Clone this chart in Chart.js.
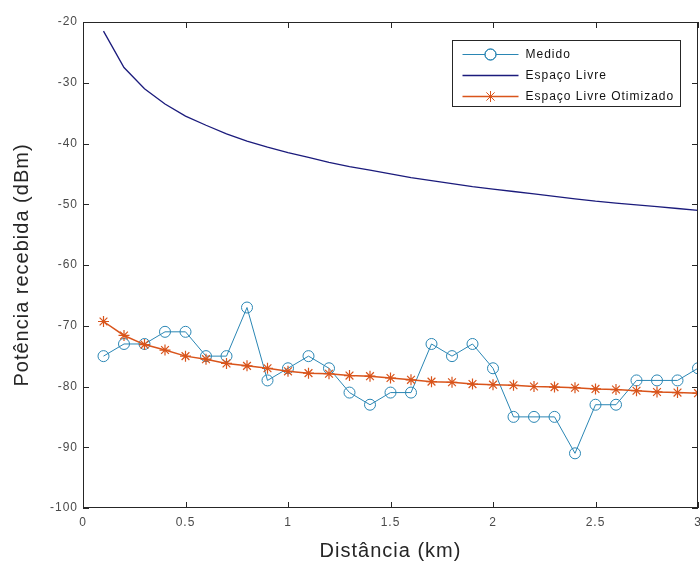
<!DOCTYPE html>
<html>
<head>
<meta charset="utf-8">
<script src="https://cdn.jsdelivr.net/npm/chart.js@4.4.0/dist/chart.umd.min.js"></script>
<style>
  html, body { margin: 0; padding: 0; background: #fff; }
  #wrap { width: 700px; height: 566px; }
</style>
</head>
<body>
<div id="wrap"><canvas id="chart" width="700" height="566"></canvas></div>
<script>
"use strict";

// distance in km
const distancias = [0.1, 0.2, 0.3, 0.4, 0.5, 0.6, 0.7, 0.8, 0.9, 1.0,
  1.1, 1.2, 1.3, 1.4, 1.5, 1.6, 1.7, 1.8, 1.9, 2.0,
  2.1, 2.2, 2.3, 2.4, 2.5, 2.6, 2.7, 2.8, 2.9, 3.0];

const medido = [-75, -73, -73, -71, -71, -75, -75, -67, -79, -77,
  -75, -77, -81, -83, -81, -81, -73, -75, -73, -77,
  -85, -85, -85, -91, -83, -83, -79, -79, -79, -77];

const espacoLivre = [-21.5, -27.5, -31.0, -33.5, -35.5, -37.0, -38.4, -39.6, -40.6, -41.5,
  -42.3, -43.1, -43.8, -44.4, -45.0, -45.6, -46.1, -46.6, -47.1, -47.5,
  -47.9, -48.3, -48.7, -49.1, -49.5, -49.8, -50.1, -50.4, -50.7, -51.0];

const otimizado = [-69.3, -71.6, -73.1, -74.0, -75.0, -75.5, -76.2, -76.6, -77.0, -77.5,
  -77.8, -77.9, -78.2, -78.3, -78.6, -78.9, -79.2, -79.3, -79.6, -79.7,
  -79.8, -80.0, -80.1, -80.2, -80.4, -80.5, -80.7, -80.9, -81.0, -81.1];

const xTicks = [0, 0.5, 1, 1.5, 2, 2.5, 3];
const yTicks = [-100, -90, -80, -70, -60, -50, -40, -30, -20];

const seriesNames = ["Medido", "Espaço Livre", "Espaço Livre Otimizado"];

function toPoints(ys) {
  return distancias.map((d, i) => ({ x: d, y: ys[i] }));
}

const tickColor = "#4a4a4a";
const font = "Liberation Sans, Arial, sans-serif";

// the matlab text is a bit spaced out
const spacingPlugin = {
  id: "spacingPlugin",
  beforeLayout(chart) { chart.ctx.letterSpacing = "1px"; },
  beforeDraw(chart) { chart.ctx.letterSpacing = "1px"; }
};

// matlab style box + inward ticks + legend
const boxPlugin = {
  id: "boxPlugin",
  afterDraw(chart) {
    const { ctx, chartArea: a, scales } = chart;
    ctx.save();
    ctx.strokeStyle = "#262626";
    ctx.lineWidth = 1;
    ctx.strokeRect(a.left + 0.5, a.top + 0.5, a.right - a.left - 1, a.bottom - a.top - 1);
    ctx.beginPath();
    xTicks.forEach(v => {
      const px = Math.round(scales.x.getPixelForValue(v)) + 0.5;
      ctx.moveTo(px, a.bottom); ctx.lineTo(px, a.bottom - 6);
      ctx.moveTo(px, a.top); ctx.lineTo(px, a.top + 6);
    });
    yTicks.forEach(v => {
      const py = Math.round(scales.y.getPixelForValue(v)) + 0.5;
      ctx.moveTo(a.left, py); ctx.lineTo(a.left + 6, py);
      ctx.moveTo(a.right, py); ctx.lineTo(a.right - 6, py);
    });
    ctx.stroke();

    const ds = chart.data.datasets;
    ctx.font = "12px " + font;
    ctx.letterSpacing = "1px";
    let textW = 0;
    ds.forEach(d => { textW = Math.max(textW, ctx.measureText(d.label).width); });
    const boxW = Math.round(73 + textW + 6);
    const boxH = 66;
    const bx = Math.round(a.right - 18 - boxW) + 0.5;
    const by = a.top + 18.5;
    ctx.fillStyle = "#fff";
    ctx.fillRect(bx, by, boxW, boxH);
    ctx.strokeStyle = "#262626";
    ctx.strokeRect(bx, by, boxW, boxH);
    ds.forEach((d, i) => {
      const rowY = by + 14 + i * 21;
      ctx.strokeStyle = d.borderColor;
      ctx.lineWidth = d.borderWidth;
      ctx.beginPath();
      ctx.moveTo(bx + 10, rowY);
      ctx.lineTo(bx + 66, rowY);
      ctx.stroke();
      if (d.pointRadius > 0) {
        ctx.lineWidth = 1;
        Chart.helpers.drawPoint(ctx, {
          pointStyle: d.pointStyle, radius: d.pointRadius, borderWidth: 1, rotation: 0
        }, bx + 38, rowY);
        ctx.stroke();
      }
      ctx.fillStyle = "#111";
      ctx.textBaseline = "middle";
      ctx.textAlign = "left";
      ctx.fillText(d.label, bx + 73, rowY);
    });
    ctx.restore();
  }
};

const noPad = () => ({ left: 0, top: 0, right: 0, bottom: 0 });

const data = {
  datasets: [
    {
      label: seriesNames[0],
      data: toPoints(medido),
      borderColor: "#2a86b4",
      borderWidth: 1,
      pointStyle: "circle",
      pointRadius: 5.5,
      pointBorderColor: "#2a86b4",
      pointBackgroundColor: "rgba(0,0,0,0)",
      pointBorderWidth: 1,
      order: 3
    },
    {
      label: seriesNames[1],
      data: toPoints(espacoLivre),
      borderColor: "#1b1b7c",
      borderWidth: 1.3,
      pointRadius: 0,
      order: 2
    },
    {
      label: seriesNames[2],
      data: toPoints(otimizado),
      borderColor: "#d9541b",
      borderWidth: 1.5,
      pointStyle: "star",
      pointRadius: 5.5,
      pointBorderColor: "#d9541b",
      pointBorderWidth: 1.2,
      order: 1
    }
  ]
};

const config = {
  type: "line",
  data: data,
  options: {
    responsive: false,
    animation: false,
    layout: { autoPadding: false, padding: { top: 22, right: 2, left: 0, bottom: 0 } },
    plugins: { legend: { display: false }, tooltip: { enabled: false } },
    elements: { line: { tension: 0 } },
    scales: {
      x: {
        type: "linear",
        min: 0,
        max: 3,
        afterBuildTicks: s => { s.ticks = xTicks.map(v => ({ value: v })); },
        afterFit: s => { s.height = 58; s.paddingLeft = 0; s.paddingRight = 0; s.getPadding = noPad; },
        grid: { display: false, drawTicks: false },
        border: { display: false },
        ticks: { padding: 7, color: tickColor, font: { family: font, size: 12 }, maxRotation: 0,
          callback: v => String(v) },
        title: { display: true, text: "Distância (km)", color: "#262626",
          font: { family: font, size: 20 }, padding: { top: 0, bottom: 3 } }
      },
      y: {
        min: -100,
        max: -20,
        afterBuildTicks: s => { s.ticks = yTicks.map(v => ({ value: v })); },
        afterFit: s => { s.width = 83; },
        grid: { display: false, drawTicks: false },
        border: { display: false },
        ticks: { padding: 5, color: tickColor, font: { family: font, size: 12 },
          callback: v => String(v) },
        title: { display: true, text: "Potência recebida (dBm)", color: "#262626",
          font: { family: font, size: 20 }, padding: { top: 10, bottom: 0 } }
      }
    }
  },
  plugins: [spacingPlugin, boxPlugin]
};

const myChart = new Chart(document.getElementById("chart"), config);
</script>
</body>
</html>
